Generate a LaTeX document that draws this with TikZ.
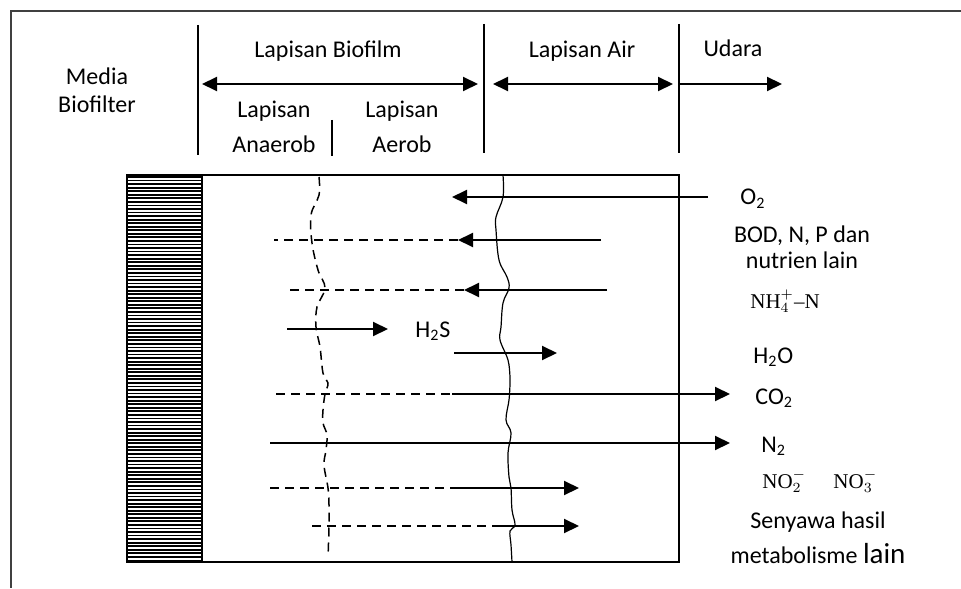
\documentclass[tikz,border=0pt]{standalone}
\usepackage{fontspec}
\setmainfont{Carlito}
\newfontfamily\chemfont{Liberation Serif}
\usetikzlibrary{arrows.meta}
\begin{document}
\begin{tikzpicture}[x=0.5pt,y=-0.5pt,
  lbl/.style={font=\fontsize{12}{14}\selectfont, inner sep=0pt, anchor=base},
  lblw/.style={lbl, anchor=base west},
  chem/.style={font=\fontsize{10.5}{12}\chemfont, inner sep=0pt, anchor=base west},
  flow/.style={line width=1pt, -{Triangle[length=7.5pt,width=7pt]}},
  span/.style={line width=1pt, {Triangle[length=7.5pt,width=7pt]}-{Triangle[length=7.5pt,width=7pt]}},
  dline/.style={line width=0.7pt, dash pattern=on 4.5pt off 3pt},
  divider/.style={line width=0.65pt},
  wave/.style={line width=0.6pt},
  frame/.style={line width=0.75pt, draw=black!75}]
\useasboundingbox (0,0) rectangle (961,588);

% outer frame (top and left edges)
\draw[frame] (961,11) -- (11,11) -- (11,588);

% header dividers
\draw[divider] (198,25) -- (198,155);
\draw[divider] (332,120) -- (332,156);
\draw[divider] (484,24) -- (484,153);
\draw[divider] (679,24) -- (679,153);

% header labels
\node[lbl] (media1) at (97,85) {Media};
\node[lbl] (media2) at (97,113) {Biofilter};
\node[lbl] (biofilm) at (328,58) {Lapisan Biofilm};
\node[lbl] (air) at (582,58) {Lapisan Air};
\node[lbl] (udara) at (733,57) {Udara};
\node[lbl] (an1) at (274,118) {Lapisan};
\node[lbl] (an2) at (274,153) {Anaerob};
\node[lbl] (ae1) at (402,118) {Lapisan};
\node[lbl] (ae2) at (402,153) {Aerob};

% header spans
\coordinate (bfL) at (202,84); \coordinate (bfR) at (478,84);
\coordinate (awL) at (493,84); \coordinate (awR) at (673,84);
\coordinate (udL) at (679,84); \coordinate (udR) at (782,84);
\draw[span] (bfL) -- (bfR);
\draw[span] (awL) -- (awR);
\draw[flow] (udL) -- (udR);

% biofilter medium (hatched)
\foreach \yy in {177,180.55,...,561} {
  \draw[line width=0.9pt] (127,\yy) -- (202,\yy);
}
\draw[line width=1pt] (127,175) rectangle (202,562);

% reactor body
\draw[line width=0.8pt] (127,175) rectangle (679,562);

% anaerob / aerob boundary
\draw[line width=0.75pt, dash pattern=on 4.5pt off 3pt] plot[smooth, tension=0.6] coordinates {
  (319,177) (319,195) (311,215) (312,243) (318,270) (325,288) (317,307)
  (316,327) (320,347) (323,373) (328,383) (325,394) (323,410) (323,423)
  (327,435) (326,450) (324,465) (328,488) (329,505) (329,527) (328,557)};

% biofilm / water boundary
\draw[wave] plot[smooth, tension=0.6] coordinates {
  (503,175) (503,197) (496,217) (496,230) (499,260) (507,277) (509,288)
  (503,303) (501,327) (500,340) (508,360) (510,377) (510,384) (509,400)
  (506,420) (511,433) (508,453) (509,477) (511,488) (512,510) (515,525)
  (510,531) (511,545) (512,562)};

% fluxes
\coordinate (o2s) at (708,197);  \coordinate (o2e) at (452,197);
\draw[flow] (o2s) -- (o2e);

\coordinate (bods) at (601,240); \coordinate (bode) at (458,240); \coordinate (bodd) at (274,240);
\draw[flow] (bods) -- (bode);
\draw[dline] (bode) -- (bodd);

\coordinate (nhs) at (607,290);  \coordinate (nhe) at (464,290); \coordinate (nhd) at (286,290);
\draw[flow] (nhs) -- (nhe);
\draw[dline] (nhe) -- (nhd);

\coordinate (h2ss) at (287,329); \coordinate (h2se) at (388,329);
\draw[flow] (h2ss) -- (h2se);

\coordinate (h2os) at (454,353); \coordinate (h2oe) at (557,353);
\draw[flow] (h2os) -- (h2oe);

\coordinate (cod) at (276,394); \coordinate (cos) at (452,394); \coordinate (coe) at (730,394);
\draw[dline] (cod) -- (cos);
\draw[flow] (cos) -- (coe);

\coordinate (n2s) at (270,443); \coordinate (n2e) at (730,443);
\draw[flow] (n2s) -- (n2e);

\coordinate (nod) at (270,488); \coordinate (nos) at (452,488); \coordinate (noe) at (579,488);
\draw[dline] (nod) -- (nos);
\draw[flow] (nos) -- (noe);

\coordinate (shd) at (312,526); \coordinate (shs) at (494,526); \coordinate (she) at (579,526);
\draw[dline] (shd) -- (shs);
\draw[flow] (shs) -- (she);

% species labels
\node[lblw] (o2) at (740,205) {O\textsubscript{2}};
\node[lbl] (bod1) at (802,242) {BOD, N, P dan};
\node[lbl] (bod2) at (802,268) {nutrien lain};
\node[chem] (nh4) at (750,308) {NH$_4^+$–N};
\node[lblw] (h2s) at (415,337) {H\textsubscript{2}S};
\node[lblw] (h2o) at (753,363) {H\textsubscript{2}O};
\node[lblw] (co2) at (755,404) {CO\textsubscript{2}};
\node[lblw] (n2) at (761,452) {N\textsubscript{2}};
\node[chem] (no2) at (762,488) {NO$_2^-$};
\node[chem] (no3) at (833,488) {NO$_3^-$};
\node[lbl] (sen1) at (818,528) {Senyawa hasil};
\node[lbl] (sen2) at (818,563) {metabolisme {\fontsize{14.5}{16}\selectfont lain}};
\end{tikzpicture}
\end{document}
